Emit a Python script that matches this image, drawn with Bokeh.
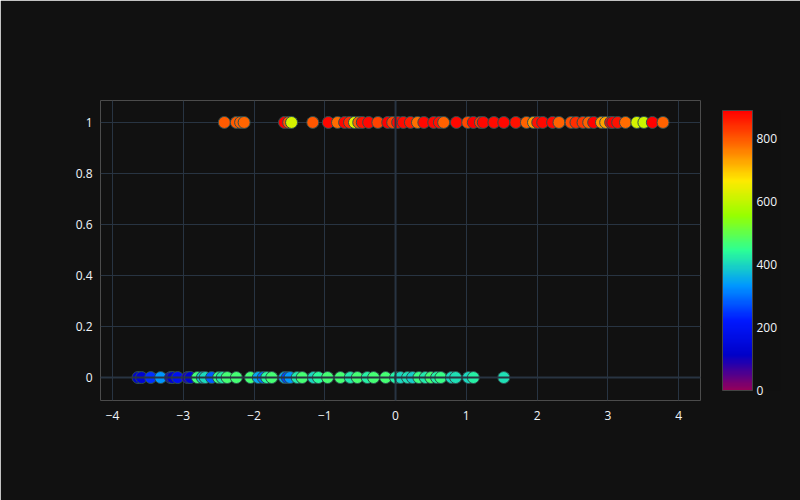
import numpy as np
from bokeh.plotting import figure
from bokeh.models import (ColumnDataSource, LinearColorMapper, ColorBar, FixedTicker,
                          Span, Range1d)
from bokeh.embed import file_html
from bokeh.resources import INLINE

# ---------------- data ----------------
x_top = [-2.42, -2.25, -2.19, -2.14, -1.57, -1.51, -1.47, -1.17, -0.95, -0.82,
         -0.72, -0.65, -0.58, -0.52, -0.47, -0.38, -0.25, -0.11, -0.04, 0.03,
         0.11, 0.21, 0.31, 0.40, 0.54, 0.62, 0.68, 0.86, 1.02, 1.10,
         1.20, 1.24, 1.39, 1.53, 1.70, 1.85, 1.95, 2.01, 2.08, 2.22,
         2.31, 2.48, 2.55, 2.65, 2.73, 2.80, 2.91, 2.97, 3.04, 3.07,
         3.14, 3.25, 3.41, 3.51, 3.63, 3.78]
c_top = [795, 795, 790, 785, 885, 800, 620, 800, 880, 780,
         880, 840, 630, 790, 870, 880, 820, 885, 820, 880,
         875, 860, 775, 880, 880, 870, 790, 880, 815, 885,
         830, 880, 875, 880, 870, 790, 740, 870, 880, 880,
         790, 810, 840, 830, 790, 885, 740, 730, 880, 885,
         870, 780, 620, 610, 885, 790]

x_bot = [-3.64, -3.59, -3.46, -3.32, -3.18, -3.15, -3.08, -2.94, -2.90, -2.80,
         -2.73, -2.69, -2.60, -2.50, -2.45, -2.38, -2.25, -2.05, -1.94, -1.87,
         -1.82, -1.75, -1.57, -1.53, -1.49, -1.39, -1.32, -1.16, -1.09, -0.96,
         -0.78, -0.64, -0.54, -0.40, -0.31, -0.14, 0.00, 0.07, 0.17, 0.24,
         0.33, 0.42, 0.50, 0.58, 0.64, 0.79, 0.85, 1.03, 1.10, 1.53]
c_bot = [120, 130, 240, 330, 90, 120, 190, 90, 130, 465,
         380, 405, 280, 460, 420, 470, 470, 470, 350, 300,
         440, 470, 350, 260, 330, 420, 470, 400, 440, 470,
         470, 420, 470, 430, 470, 470, 430, 400, 410, 390,
         460, 420, 470, 430, 455, 400, 410, 400, 430, 410]

c_min, c_max = 0, 888
x_ticks = [-4, -3, -2, -1, 0, 1, 2, 3, 4]
y_ticks = [0, 0.2, 0.4, 0.6, 0.8, 1]
y_tick_labels = ["0", "0.2", "0.4", "0.6", "0.8", "1"]
cbar_ticks = [0, 200, 400, 600, 800]

# ---------------- colour scale (Plotly "Rainbow") ----------------
stops = [0, 0.125, 0.25, 0.375, 0.5, 0.625, 0.75, 0.875, 1]
stop_rgb = [(150, 0, 90), (0, 0, 200), (0, 25, 255), (0, 152, 255), (44, 255, 150),
            (151, 255, 0), (255, 234, 0), (255, 111, 0), (255, 0, 0)]
t = np.linspace(0, 1, 256)
arr = np.array(stop_rgb, dtype=float)
palette = []
for tv in t:
    r = np.interp(tv, stops, arr[:, 0])
    g = np.interp(tv, stops, arr[:, 1])
    b = np.interp(tv, stops, arr[:, 2])
    palette.append("#%02x%02x%02x" % (int(round(r)), int(round(g)), int(round(b))))

mapper = LinearColorMapper(palette=palette, low=c_min, high=c_max)

xs = x_top + x_bot
ys = [1] * len(x_top) + [0] * len(x_bot)
cs = c_top + c_bot
src = ColumnDataSource(dict(x=xs, y=ys, c=cs))

BG = "#111111"
GRID = "#283442"
TXT = "#f2f5fa"
FONT = "Open Sans"

p = figure(width=800, height=500, output_backend="svg", toolbar_location=None,
           x_range=Range1d(-4.17, 4.31), y_range=Range1d(-0.09, 1.086),
           min_border_left=100, min_border_right=100, min_border_top=100,
           min_border_bottom=100)
p.background_fill_color = BG
p.border_fill_color = BG
p.outline_line_color = None

for ax in (p.xaxis, p.yaxis):
    ax.axis_line_color = None
    ax.major_tick_line_color = None
    ax.minor_tick_line_color = None
    ax.major_label_text_color = TXT
    ax.major_label_text_font = FONT
    ax.major_label_text_font_size = "12px"

p.xaxis.ticker = FixedTicker(ticks=x_ticks)
p.xaxis.major_label_overrides = {v: (("\u2212" + str(abs(v))) if v < 0 else str(v)) for v in x_ticks}
p.xaxis.major_label_standoff = 4
p.yaxis.ticker = FixedTicker(ticks=y_ticks)
p.yaxis.major_label_overrides = dict(zip(y_ticks, y_tick_labels))
p.yaxis.major_label_standoff = 2

p.xgrid.grid_line_color = GRID
p.ygrid.grid_line_color = GRID
p.xgrid.grid_line_width = 1
p.ygrid.grid_line_width = 1

p.add_layout(Span(location=0, dimension="height", line_color=GRID, line_width=2))
p.add_layout(Span(location=0, dimension="width", line_color=GRID, line_width=2))

p.scatter("x", "y", source=src, size=12,
          fill_color={"field": "c", "transform": mapper},
          line_color="#2F4F4F", line_width=1)

cb = ColorBar(color_mapper=mapper, ticker=FixedTicker(ticks=cbar_ticks),
              width=30, height=280, location=(22, 10), padding=0,
              bar_line_color="#444444", bar_line_width=1,
              major_tick_line_color=None, minor_tick_line_color=None,
              major_label_text_color=TXT, major_label_text_font=FONT,
              major_label_text_font_size="12px", label_standoff=4,
              background_fill_color=BG, border_line_color=None)
p.add_layout(cb, "right")

open("out.html", "w").write(file_html(p, INLINE))
